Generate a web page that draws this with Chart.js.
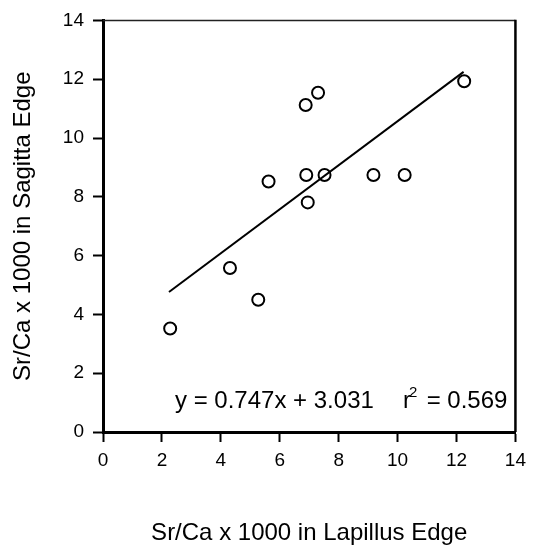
<!DOCTYPE html>
<html lang="en">
<head>
  <meta charset="UTF-8" />
  <title>Sr/Ca Sagitta vs Lapillus</title>
  <script src="https://cdn.jsdelivr.net/npm/chart.js"></script>
  <style>
    * { margin: 0; padding: 0; box-sizing: border-box; }
    body { background: #fff; width: 533px; height: 548px; overflow: hidden; }
    canvas { display: block; }
  </style>
</head>
<body>
  <canvas id="chart" width="533" height="548"></canvas>

  <script>
    // values
    const lapillus = [2.28, 4.31, 5.27, 5.62, 6.88, 7.30, 6.90, 6.95, 7.52, 9.18, 10.24, 12.26];
    const sagitta  = [3.52, 5.58, 4.50, 8.52, 11.12, 11.54, 8.74, 7.81, 8.74, 8.74, 8.74, 11.93];
    const fitX = [2.24, 12.24];
    const fitY = [4.76, 12.25];
    const axisMin = 0, axisMax = 14, axisStep = 2;
    const eqLeft = 'y = 0.747x + 3.031';
    const eqRight = ' = 0.569';

    const FONT = '"Liberation Sans", Arial, sans-serif';

    // top + right frame lines and the regression equation
    const framePlugin = {
      id: 'frame',
      afterDraw(chart) {
        const { ctx, chartArea: a } = chart;
        ctx.save();
        ctx.strokeStyle = '#222';
        ctx.lineWidth = 1.5;
        ctx.beginPath();
        ctx.moveTo(a.left, a.top);
        ctx.lineTo(a.right, a.top);
        ctx.stroke();
        ctx.strokeStyle = '#000';
        ctx.lineWidth = 2.5;
        ctx.beginPath();
        ctx.moveTo(a.right, a.top - 0.75);
        ctx.lineTo(a.right, a.bottom);
        ctx.stroke();

        ctx.fillStyle = '#000';
        ctx.textBaseline = 'middle';
        ctx.textAlign = 'left';
        ctx.font = '24px ' + FONT;
        ctx.fillText(eqLeft, 175, 401);
        ctx.fillText('r', 403, 401);
        ctx.font = '15px ' + FONT;
        ctx.fillText('2', 409, 393);
        ctx.font = '24px ' + FONT;
        ctx.fillText(eqRight, 420, 401);
        ctx.restore();
      }
    };

    const points = lapillus.map((x, i) => ({ x: x, y: sagitta[i] }));
    const fitLine = fitX.map((x, i) => ({ x: x, y: fitY[i] }));

    const axisCommon = {
      type: 'linear',
      min: axisMin,
      max: axisMax,
      grid: {
        drawOnChartArea: false,
        drawTicks: true,
        tickLength: 10,
        tickWidth: 2,
        tickColor: '#000'
      },
      border: { display: true, color: '#000', width: 3 }
    };

    new Chart(document.getElementById('chart'), {
      type: 'scatter',
      data: {
        datasets: [
          {
            type: 'line',
            data: fitLine,
            borderColor: '#000',
            borderWidth: 2,
            pointRadius: 0,
            fill: false,
            tension: 0
          },
          {
            data: points,
            pointStyle: 'circle',
            pointRadius: 6,
            pointBorderWidth: 2,
            borderColor: '#000',
            backgroundColor: 'rgba(0,0,0,0)'
          }
        ]
      },
      options: {
        responsive: false,
        animation: false,
        layout: { padding: { top: 18, right: 9, left: 0, bottom: 0 } },
        plugins: {
          legend: { display: false },
          tooltip: { enabled: false }
        },
        scales: {
          x: Object.assign({}, axisCommon, {
            position: 'bottom',
            ticks: { stepSize: axisStep, color: '#000', padding: 7, font: { family: FONT, size: 19 } },
            title: {
              display: true,
              text: 'Sr/Ca x 1000 in Lapillus Edge',
              color: '#000',
              font: { family: FONT, size: 24 },
              padding: { top: 0, bottom: 0 }
            },
            afterFit(scale) { scale.height = 116; }
          }),
          y: Object.assign({}, axisCommon, {
            position: 'left',
            ticks: { stepSize: axisStep, color: '#000', padding: 9, font: { family: FONT, size: 19 } },
            title: {
              display: true,
              text: 'Sr/Ca x 1000 in Sagitta Edge',
              color: '#000',
              font: { family: FONT, size: 24 },
              padding: { top: 9, bottom: 9 }
            },
            afterFit(scale) { scale.width = 103; }
          })
        }
      },
      plugins: [framePlugin]
    });
  </script>
</body>
</html>
